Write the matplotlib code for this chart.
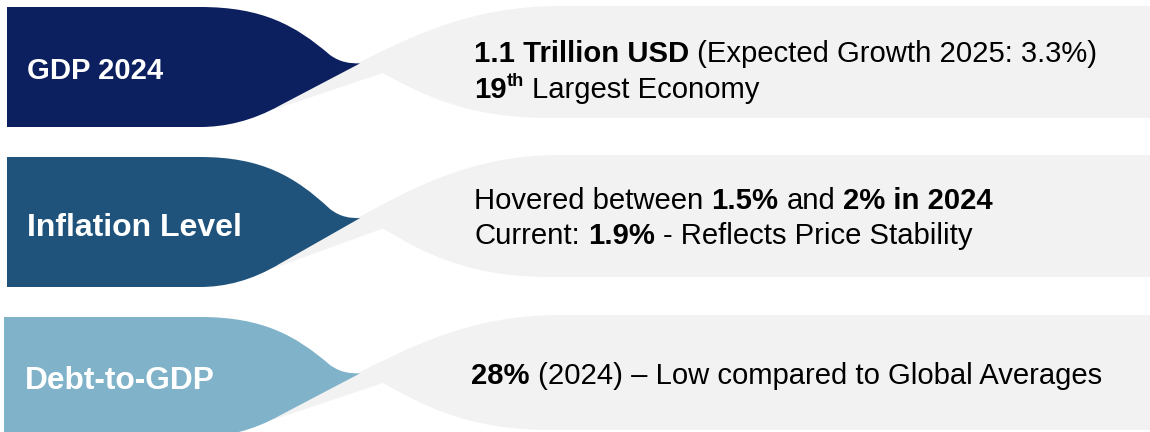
import matplotlib
matplotlib.use('Agg')
import matplotlib.pyplot as plt
from matplotlib.path import Path
from matplotlib.patches import PathPatch

# panel contents
headings = ['GDP 2024', 'Inflation Level', 'Debt-to-GDP']
heading_sizes = [21.1, 23, 22.8]
box_colors = ['#0C1F5E', '#1F537C', '#80B3C9']
gray = '#F2F2F2'

# each line is a list of (text, style) runs; style: 'b' bold, 'r' regular, 's' superscript
details = [
    [[('1.1 Trillion USD', 'b'), (' ', 'r'), ('(Expected Growth 2025: 3.3%)', 'r')],
     [('19', 'b'), ('th', 's'), (' ', 'r'), ('Largest Economy', 'r')]],
    [[('Hovered between', 'r'), (' ', 'r'), ('1.5%', 'b'), (' ', 'r'), ('and', 'r'), (' ', 'r'), ('2% in 2024', 'b')],
     [('Current:', 'r'), (' ', 'r'), ('1.9%', 'b'), (' ', 'r'), ('- Reflects Price Stability', 'r')]],
    [[('28%', 'b'), (' ', 'r'), ('(2024) \u2013 Low compared to Global Averages', 'r')]],
]
detail_size = 21.1

FONT = 'Liberation Sans'

fig = plt.figure(figsize=(11.5, 4.32), dpi=100)
ax = fig.add_axes([0, 0, 1, 1])
ax.set_xlim(0, 1150)
ax.set_ylim(432, 0)
ax.axis('off')
renderer = fig.canvas.get_renderer()

M, L, C, Z = Path.MOVETO, Path.LINETO, Path.CURVE4, Path.CLOSEPOLY


def gray_shape(t, h, gt, gb):
    v = lambda f: t + f * h
    verts = [(350, v(0.5)),
             (410, v(0.25)), (470, gt), (560, gt),
             (1150, gt), (1150, gb), (550, gb),
             (465, gb), (420, v(0.72)), (383, v(0.55)),
             (272, v(0.86)), (300, v(0.6)), (350, v(0.5))]
    codes = [M, C, C, C, L, L, L, C, C, C, L, L, Z]
    return Path(verts, codes)


def dark_shape(x0, t, h):
    v = lambda f: t + f * h
    verts = [(x0, t), (200, t),
             (262, t), (295, v(0.15)), (330, v(0.40)),
             (341, v(0.465)), (350, v(0.47)), (360, v(0.47)),
             (280, v(0.82)),
             (252, v(0.95)), (225, v(1.0)), (200, v(1.0)),
             (x0, v(1.0)), (x0, t)]
    codes = [M, L, C, C, C, C, C, C, L, C, C, C, L, Z]
    return Path(verts, codes)


def put_runs(x, y, runs, size):
    px = size * 100 / 72
    for txt, style in runs:
        if txt == ' ':
            x += 0.278 * px
            continue
        if style == 's':
            t = ax.text(x, y - 0.42 * px, txt, fontsize=size * 0.62, fontweight='bold',
                        family=FONT, va='baseline', ha='left', color='black')
        else:
            t = ax.text(x, y, txt, fontsize=size, fontweight='bold' if style == 'b' else 'normal',
                        family=FONT, va='baseline', ha='left', color='black')
        x += t.get_window_extent(renderer).width


dark_tops = [7, 157, 317]
dark_heights = [120, 130, 120]
gray_tops = [6, 155, 315]
gray_bottoms = [118, 277, 430]
left_edges = [7, 7, 4]
heading_x = [27, 27, 25]
heading_base = [79, 236, 389]
detail_x = [474, 474, 471]
detail_base = [[62, 98], [209, 244], [384]]

for i in range(3):
    ax.add_patch(PathPatch(gray_shape(dark_tops[i], dark_heights[i], gray_tops[i], gray_bottoms[i]),
                           facecolor=gray, edgecolor='none'))
    ax.add_patch(PathPatch(dark_shape(left_edges[i], dark_tops[i], dark_heights[i]),
                           facecolor=box_colors[i], edgecolor='none'))
    ax.text(heading_x[i], heading_base[i], headings[i], fontsize=heading_sizes[i], fontweight='bold',
            family=FONT, color='white', va='baseline', ha='left')
    for line, yb in zip(details[i], detail_base[i]):
        put_runs(detail_x[i], yb, line, detail_size)

fig.savefig('out.png', dpi=100)
